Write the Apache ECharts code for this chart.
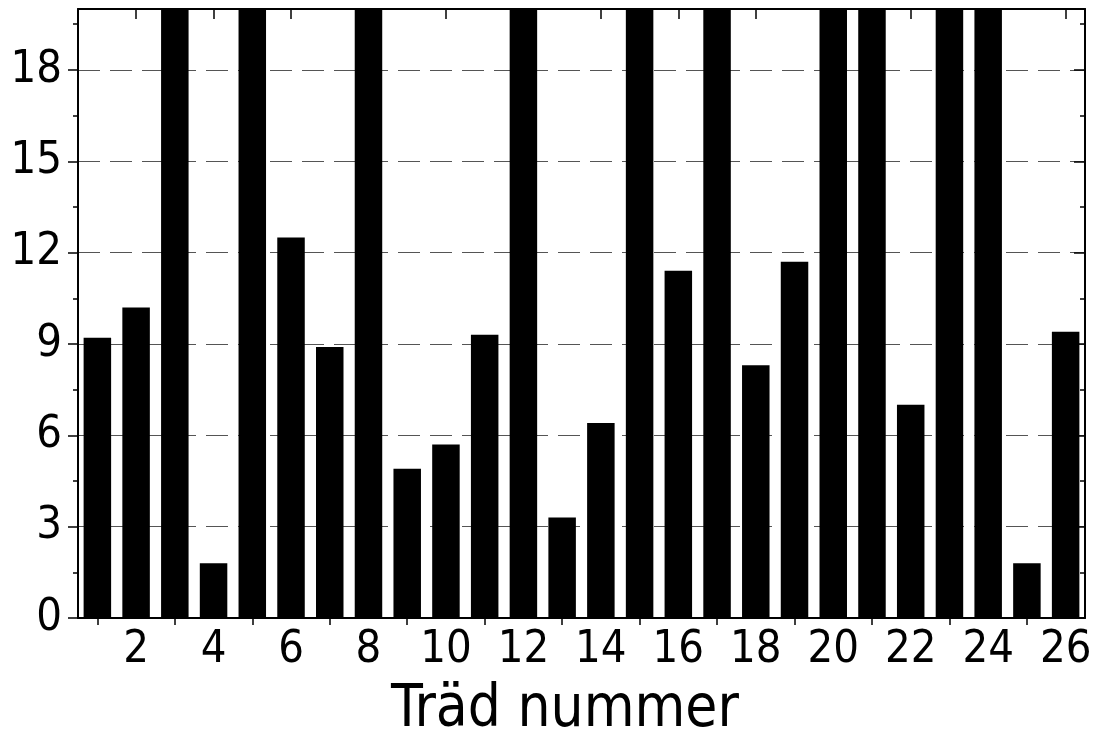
<!DOCTYPE html>
<html><head><meta charset="utf-8">
<script src="https://cdn.jsdelivr.net/npm/echarts@6/dist/echarts.min.js"></script>
<style>html,body{margin:0;padding:0;background:#fff}#c{width:1099px;height:740px}</style>
</head><body><div id="c"></div>
<script>
const categories = ['1','2','3','4','5','6','7','8','9','10','11','12','13','14','15','16','17','18','19','20','21','22','23','24','25','26'];
// bars reaching past the top of the frame are drawn clipped at 20
const values = [9.2, 10.2, 25, 1.8, 25, 12.5, 8.9, 25, 4.9, 5.7, 9.3, 25, 3.3, 6.4, 25, 11.4, 25, 8.3, 11.7, 25, 25, 7.0, 25, 25, 1.8, 9.4];
const yMajorTicks = [0, 3, 6, 9, 12, 15, 18];
const yMinorTicks = [1.5, 4.5, 7.5, 10.5, 13.5, 16.5, 19.5];
const xTitle = 'Träd nummer';

const FONT = '"DejaVu Sans Condensed", "DejaVu Sans"';
const chart = echarts.init(document.getElementById('c'), null, {renderer: 'canvas'});
const hiddenLine = {show: false};
const tickStyle = {color: '#000', width: 1.5};
const catBase = {type: 'category', data: categories, boundaryGap: true, axisLine: hiddenLine, axisLabel: {show: false}, splitLine: {show: false}};
const valBase = {type: 'value', min: 0, max: 20, axisLine: hiddenLine, axisLabel: {show: false}, splitLine: {show: false}};

chart.setOption({
  animation: false,
  backgroundColor: '#fff',
  grid: {left: 78, right: 14, top: 9, bottom: 122, containLabel: false},
  xAxis: [
    Object.assign({}, catBase, {
      position: 'bottom',
      axisLine: {show: true, onZero: false, lineStyle: {color: '#000', width: 2}},
      axisTick: {show: true, alignWithLabel: true, inside: false, length: 7, lineStyle: tickStyle, interval: (i) => i % 2 === 0},
      axisLabel: {show: true, interval: (i) => i % 2 === 1, color: '#000', fontFamily: FONT, fontSize: 45, margin: 10}
    }),
    Object.assign({}, catBase, {
      position: 'bottom',
      axisTick: {show: true, alignWithLabel: true, inside: true, length: 3, lineStyle: tickStyle, interval: 0}
    }),
    Object.assign({}, catBase, {
      position: 'top',
      axisLine: {show: true, onZero: false, lineStyle: {color: '#000', width: 2}},
      axisTick: {show: true, alignWithLabel: true, inside: true, length: 10, lineStyle: tickStyle, interval: (i) => i % 2 === 1}
    }),
    Object.assign({}, catBase, {
      position: 'top',
      axisTick: {show: true, alignWithLabel: true, inside: true, length: 5, lineStyle: tickStyle, interval: (i) => i % 2 === 0}
    })
  ],
  yAxis: [
    Object.assign({}, valBase, {
      position: 'left',
      axisLine: {show: true, onZero: false, lineStyle: {color: '#000', width: 2}},
      axisTick: {show: true, inside: false, length: 10, lineStyle: tickStyle, customValues: yMajorTicks},
      axisLabel: {show: true, customValues: yMajorTicks, color: '#000', fontFamily: FONT, fontSize: 45, margin: 16},
      splitLine: {show: true, lineStyle: {color: '#555', width: 1, type: [22, 10]}}
    }),
    Object.assign({}, valBase, {
      position: 'left',
      axisTick: {show: true, inside: false, length: 5, lineStyle: tickStyle, customValues: yMinorTicks}
    }),
    Object.assign({}, valBase, {
      position: 'right',
      axisLine: {show: true, onZero: false, lineStyle: {color: '#000', width: 2}},
      axisTick: {show: true, inside: true, length: 11, lineStyle: tickStyle, customValues: yMajorTicks}
    }),
    Object.assign({}, valBase, {
      position: 'right',
      axisTick: {show: true, inside: true, length: 5, lineStyle: tickStyle, customValues: yMinorTicks}
    })
  ],
  series: [{
    type: 'bar',
    xAxisIndex: 0,
    yAxisIndex: 0,
    data: values,
    barWidth: '71%',
    clip: true,
    itemStyle: {color: '#000'}
  }],
  graphic: [{
    type: 'text',
    x: 565,
    y: 711,
    style: {text: xTitle, fontFamily: FONT, fontSize: 58, fill: '#000', align: 'center', verticalAlign: 'middle'}
  }]
});
</script>
</body></html>
